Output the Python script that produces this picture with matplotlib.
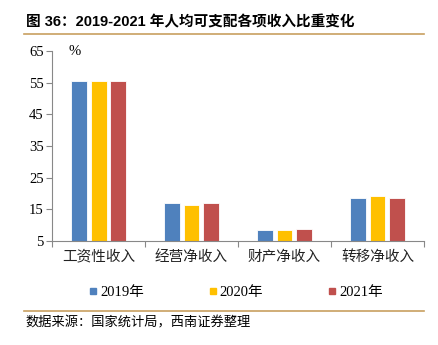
import matplotlib
matplotlib.use('Agg')
import matplotlib.pyplot as plt
import numpy as np
from matplotlib.lines import Line2D

plt.rcParams['font.family'] = ['Liberation Serif', 'Noto Sans CJK SC', 'DejaVu Sans']

categories = ['工资性收入', '经营净收入', '财产净收入', '转移净收入']
years = ['2019年', '2020年', '2021年']
v2019 = [55.7, 17.0, 8.5, 18.6]
v2020 = [55.7, 16.5, 8.5, 19.2]
v2021 = [55.7, 17.0, 8.8, 18.5]
colors = ['#4F81BD', '#FFC000', '#C0504D']

fig = plt.figure(figsize=(4.38, 3.45), dpi=100)
ax = fig.add_axes([0.119, 0.301, 0.849, 0.551])

x = np.arange(len(categories))
w = 0.17
base = 5
for k, vals in enumerate([v2019, v2020, v2021]):
    ax.bar(x + (k - 1) * 0.21, np.array(vals) - base, w, bottom=base,
           color=colors[k], edgecolor='white', linewidth=0.6, label=years[k])

ax.set_ylim(5, 65)
ax.set_yticks(range(5, 66, 10))
ax.set_xlim(-0.5, 3.5)
ax.set_xticks(np.arange(-0.5, 4, 1))
ax.set_xticklabels([])
ax.set_xticks(x, minor=True)
ax.set_xticklabels(categories, minor=True, fontsize=10.5, family=['Noto Sans CJK SC'],
                   color='#222222')
ax.tick_params(axis='x', which='minor', length=0, pad=6)
ax.tick_params(axis='x', which='major', length=4, color='#888888')
ax.tick_params(axis='y', length=4, color='#888888', labelsize=10.5, pad=2)
for s in ['top', 'right']:
    ax.spines[s].set_visible(False)
for s in ['left', 'bottom']:
    ax.spines[s].set_color('#888888')
ax.text(0.045, 1.0, '%', transform=ax.transAxes, fontsize=10.5, va='center')

handles = [Line2D([], [], marker='s', linestyle='', color=c, markersize=5) for c in colors]
fig.legend(handles, years, loc='center', bbox_to_anchor=(0.535, 0.153), ncol=3,
           frameon=False, handletextpad=0.0, columnspacing=4.2, handlelength=1.0,
           prop={'family': ['Liberation Serif', 'Noto Sans CJK SC'], 'size': 10.5})

fig.text(0.06, 0.935, '图 36：2019-2021 年人均可支配各项收入比重变化', fontsize=10.5,
         fontweight='bold', family=['Liberation Sans', 'Noto Sans CJK SC'], va='center')
fig.add_artist(Line2D([0.055, 0.967], [0.901, 0.901], color='#C8A060', linewidth=1.2))
fig.add_artist(Line2D([0.055, 0.967], [0.098, 0.098], color='#C8A060', linewidth=1.2))
fig.text(0.058, 0.064, '数据来源：国家统计局，西南证券整理', fontsize=9.5, style='italic',
         family=['Noto Sans CJK SC'], va='center')

fig.savefig('out.png', dpi=100)
